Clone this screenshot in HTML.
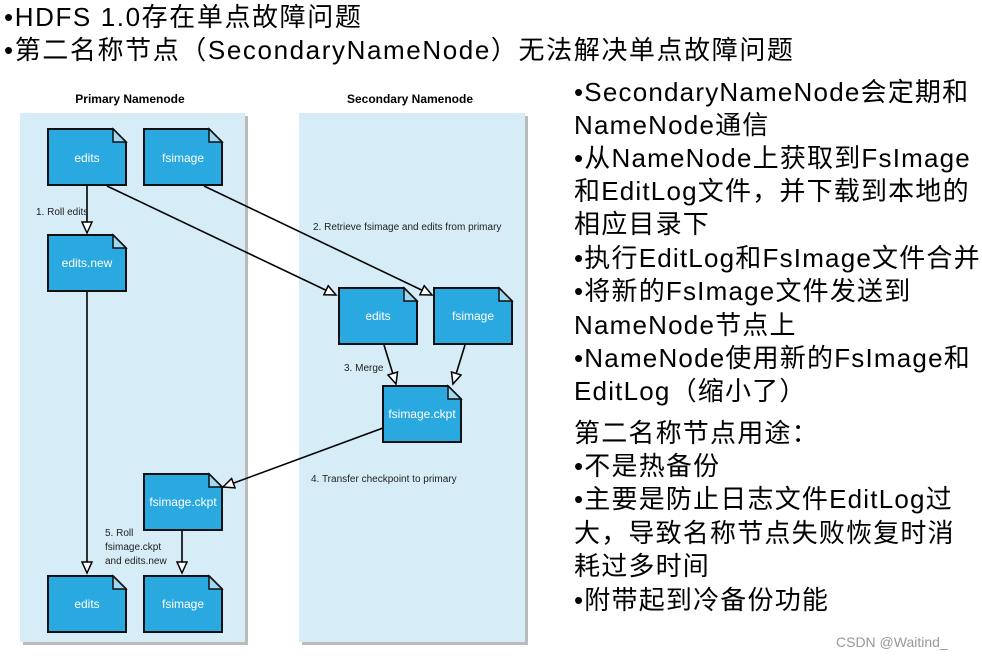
<!DOCTYPE html>
<html><head><meta charset="utf-8"><style>
body{margin:0;width:982px;height:660px;background:#fff;position:relative;overflow:hidden;font-family:"Liberation Sans","Noto Sans CJK SC",sans-serif;}
.t{position:absolute;white-space:nowrap;font-size:26px;letter-spacing:1.2px;line-height:30px;color:#000;}
svg{position:absolute;left:0;top:0}
</style></head><body>
<div class="t" style="left:4px;top:2px;letter-spacing:1.6px">•HDFS 1.0存在单点故障问题</div>
<div class="t" style="left:4px;top:35px;letter-spacing:1.6px">•第二名称节点（SecondaryNameNode）无法解决单点故障问题</div>
<svg width="560" height="660" viewBox="0 0 560 660" font-family="Liberation Sans, sans-serif">
<defs>
<marker id="a" markerWidth="14" markerHeight="12" refX="12" refY="6" orient="auto" markerUnits="userSpaceOnUse">
<path d="M1,1 L12,6 L1,11 Z" fill="#fff" stroke="#000" stroke-width="1.5"/></marker>
<g id="doc"><path d="M0,0 H65 L78,13 V56 H0 Z" fill="#29a9e0" stroke="#111" stroke-width="2"/><path d="M65,0 V13 H78 Z" fill="#9fd8f0" stroke="#111" stroke-width="1.5"/></g>
</defs>
<rect x="23" y="116" width="225" height="529" fill="#bbb"/>
<rect x="20" y="113" width="225" height="529" fill="#d6ecf7"/>
<rect x="302" y="116" width="226" height="529" fill="#bbb"/>
<rect x="299" y="113" width="226" height="529" fill="#d6ecf7"/>
<text x="130" y="103" font-size="12" font-weight="bold" text-anchor="middle">Primary Namenode</text>
<text x="410" y="103" font-size="12" font-weight="bold" text-anchor="middle">Secondary Namenode</text>
<g stroke="#000" stroke-width="1.6" fill="none">
<line x1="87" y1="186" x2="87" y2="233" marker-end="url(#a)"/>
<line x1="87" y1="291" x2="87" y2="573" marker-end="url(#a)"/>
<line x1="107" y1="186" x2="336" y2="295" marker-end="url(#a)"/>
<line x1="204" y1="186" x2="432" y2="295" marker-end="url(#a)"/>
<line x1="384" y1="345" x2="396" y2="384" marker-end="url(#a)"/>
<line x1="465" y1="345" x2="453" y2="384" marker-end="url(#a)"/>
<line x1="383" y1="428" x2="223" y2="487" marker-end="url(#a)"/>
<line x1="182" y1="531" x2="182" y2="573" marker-end="url(#a)"/>
</g>
<use href="#doc" x="48" y="129"/><use href="#doc" x="144" y="129"/>
<use href="#doc" x="48" y="235"/>
<use href="#doc" x="339" y="288"/><use href="#doc" x="434" y="288"/>
<use href="#doc" x="383" y="386"/>
<use href="#doc" x="144" y="474"/>
<use href="#doc" x="48" y="576"/><use href="#doc" x="144" y="576"/>
<g fill="#fff" font-size="12" text-anchor="middle">
<text x="87" y="162">edits</text><text x="183" y="162">fsimage</text>
<text x="87" y="267">edits.new</text>
<text x="378" y="320">edits</text><text x="473" y="320">fsimage</text>
<text x="422" y="418">fsimage.ckpt</text>
<text x="183" y="506">fsimage.ckpt</text>
<text x="87" y="608">edits</text><text x="183" y="608">fsimage</text>
</g>
<g font-size="10" fill="#222">
<text x="36" y="215">1. Roll edits</text>
<text x="313" y="230">2. Retrieve fsimage and edits from primary</text>
<text x="344" y="371">3. Merge</text>
<text x="311" y="482">4. Transfer checkpoint to primary</text>
<text x="105" y="536">5. Roll</text>
<text x="105" y="550">fsimage.ckpt</text>
<text x="105" y="564">and edits.new</text>
</g>
</svg>
<div class="t" style="left:574px;top:77px">•SecondaryNameNode会定期和</div>
<div class="t" style="left:574px;top:110px">NameNode通信</div>
<div class="t" style="left:574px;top:143px">•从NameNode上获取到FsImage</div>
<div class="t" style="left:574px;top:176px">和EditLog文件，并下载到本地的</div>
<div class="t" style="left:574px;top:209px">相应目录下</div>
<div class="t" style="left:574px;top:243px">•执行EditLog和FsImage文件合并</div>
<div class="t" style="left:574px;top:276px">•将新的FsImage文件发送到</div>
<div class="t" style="left:574px;top:310px">NameNode节点上</div>
<div class="t" style="left:574px;top:343px">•NameNode使用新的FsImage和</div>
<div class="t" style="left:574px;top:376px">EditLog（缩小了）</div>
<div class="t" style="left:574px;top:418px">第二名称节点用途：</div>
<div class="t" style="left:574px;top:451px">•不是热备份</div>
<div class="t" style="left:574px;top:484px">•主要是防止日志文件EditLog过</div>
<div class="t" style="left:574px;top:518px">大，导致名称节点失败恢复时消</div>
<div class="t" style="left:574px;top:551px">耗过多时间</div>
<div class="t" style="left:574px;top:585px">•附带起到冷备份功能</div>
<div class="t" style="left:836px;top:632px;font-size:14px;line-height:20px;letter-spacing:0;color:#999">CSDN @Waitind_</div>
</body></html>
